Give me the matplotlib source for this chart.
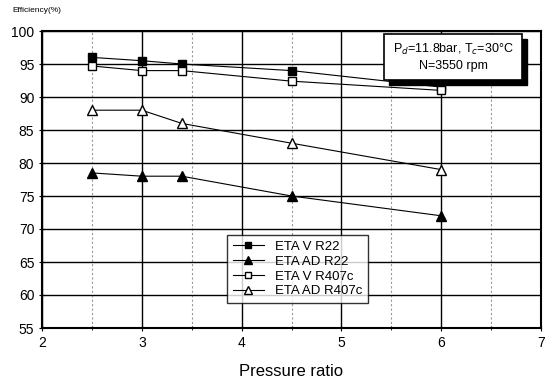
import numpy as np
import matplotlib.pyplot as plt
from matplotlib.ticker import MultipleLocator
from matplotlib.patches import Rectangle

# pressure ratio points
x = [2.5, 3.0, 3.4, 4.5, 6.0]
eta_v_r22 = [96.0, 95.5, 95.0, 94.0, 91.5]
eta_ad_r22 = [78.5, 78.0, 78.0, 75.0, 72.0]
eta_v_r407c = [94.7, 94.0, 94.0, 92.4, 91.0]
eta_ad_r407c = [88.0, 88.0, 86.0, 83.0, 79.0]

plt.rcParams['font.family'] = ['Liberation Sans', 'DejaVu Sans']

fig = plt.figure(figsize=(5.46, 3.83), dpi=100)
ax = fig.add_axes([42/546, 1 - 328/383, (541-42)/546, (328-31)/383])

ax.plot(x, eta_v_r22, 'k-', marker='s', ms=6, mfc='k', lw=0.8, label='ETA V R22', zorder=5)
ax.plot(x, eta_ad_r22, 'k-', marker='^', ms=7, mfc='k', lw=0.8, label='ETA AD R22', zorder=5)
ax.plot(x, eta_v_r407c, 'k-', marker='s', ms=6, mfc='white', lw=0.8, label='ETA V R407c', zorder=5)
ax.plot(x, eta_ad_r407c, 'k-', marker='^', ms=7, mfc='white', lw=0.8, label='ETA AD R407c', zorder=5)

ax.set_xlim(2, 7)
ax.set_ylim(55, 100)
ax.xaxis.set_major_locator(MultipleLocator(1))
ax.xaxis.set_minor_locator(MultipleLocator(0.5))
ax.yaxis.set_major_locator(MultipleLocator(5))
ax.grid(True, which='major', color='k', lw=1.0)
ax.grid(True, which='minor', axis='x', color='#999999', lw=0.8, ls=(0, (2, 2)))
ax.tick_params(axis='both', which='major', labelsize=10, length=4, direction='inout')
ax.tick_params(axis='x', which='minor', length=3, direction='inout')
for s in ax.spines.values():
    s.set_linewidth(1.5)

ax.set_xlabel('Pressure ratio', fontsize=12, labelpad=10)
fig.text(12/546, 1 - 10/383, 'Efficiency(%)', fontsize=6, va='center')

leg = ax.legend(loc='upper left', bbox_to_anchor=((220-42)/499, (328-228)/297),
                fontsize=9.5, frameon=True, fancybox=False, edgecolor='k',
                handlelength=2.4, borderpad=0.45, labelspacing=0.2, markerscale=0.8)
leg.get_frame().set_linewidth(1.0)
leg.set_zorder(10)

# annotation box with drop shadow (figure pixel coords)
W, H = 546, 383
bx0, bx1, by0, by1 = 384, 522, 34, 80
fig.patches.append(Rectangle((bx0/W + 5/W, 1 - (by1 + 5)/H), (bx1-bx0)/W, (by1-by0)/H,
                             transform=fig.transFigure, fc='k', ec='k', zorder=11))
fig.patches.append(Rectangle((bx0/W, 1 - by1/H), (bx1-bx0)/W, (by1-by0)/H,
                             transform=fig.transFigure, fc='white', ec='k', lw=1.2, zorder=12))
fig.text((bx0+bx1)/2/W, 1 - (by0+by1)/2/H, 'P$_d$=11.8bar, T$_c$=30°C\nN=3550 rpm',
         ha='center', va='center', fontsize=9, zorder=13, linespacing=1.3)

fig.savefig('out.png', dpi=100)
